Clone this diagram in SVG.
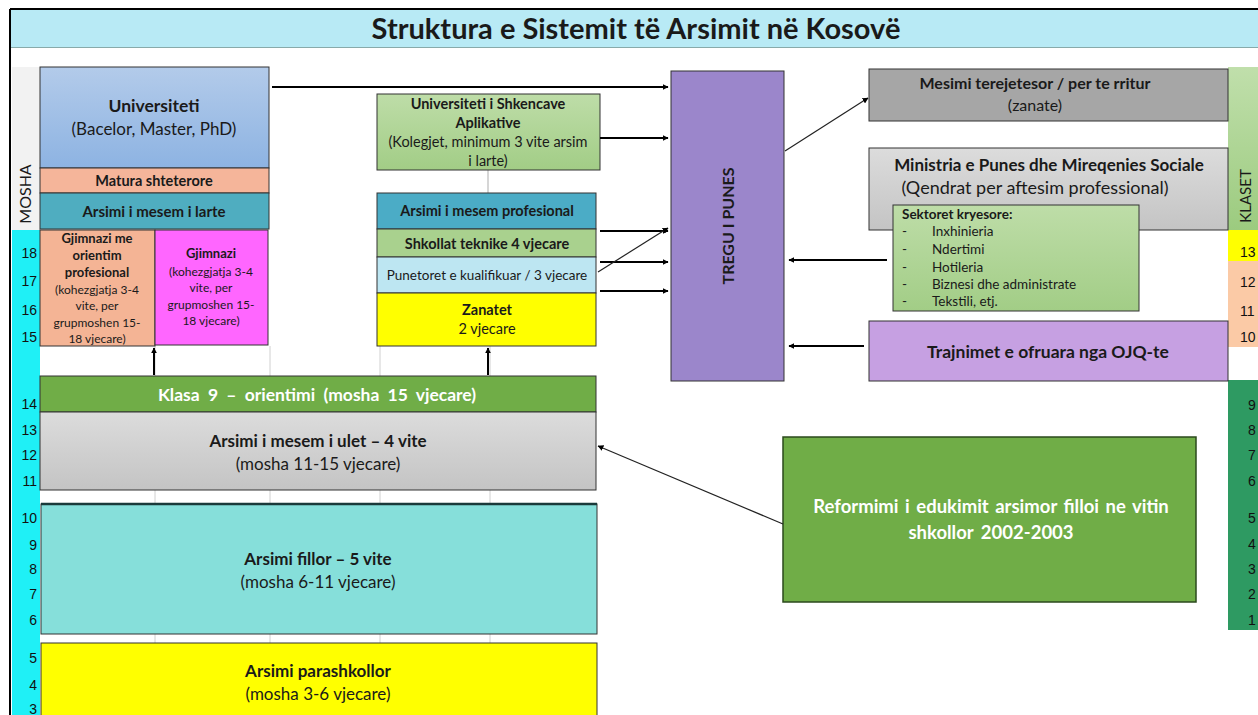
<svg xmlns="http://www.w3.org/2000/svg" width="1258" height="715" viewBox="0 0 1258 715">
<defs>
<style>
.t{font-family:Lato,"Liberation Sans",sans-serif;fill:#1a1a1a;text-anchor:middle}
.b{font-weight:bold}
.n{font-family:"Liberation Sans",Arial,sans-serif;font-size:14px;fill:#111}
.box{stroke:#333;stroke-width:1}
.grid{stroke:#d0d0d0;stroke-width:1}
.ar{stroke:#000;stroke-width:2;fill:none;marker-end:url(#ah)}
.ar1{stroke:#222;stroke-width:1.2;fill:none;marker-end:url(#ah)}
.w{fill:#fff}
</style>
<marker id="ah" viewBox="0 0 10 10" refX="9" refY="5" markerWidth="6" markerHeight="6" markerUnits="userSpaceOnUse" orient="auto"><path d="M0,0 L10,5 L0,10 z" fill="#000"/></marker>
<linearGradient id="gUni" x1="0" y1="0" x2="0" y2="1"><stop offset="0" stop-color="#B3CBEA"/><stop offset="1" stop-color="#8DB3E2"/></linearGradient>
<linearGradient id="gGrey" x1="0" y1="0" x2="0" y2="1"><stop offset="0" stop-color="#DCDCDC"/><stop offset="1" stop-color="#C4C4C4"/></linearGradient>
<linearGradient id="gGreen" x1="0" y1="0" x2="0" y2="1"><stop offset="0" stop-color="#BEDDA8"/><stop offset="1" stop-color="#A2CD86"/></linearGradient>
<linearGradient id="gKl" x1="0" y1="0" x2="0" y2="1"><stop offset="0" stop-color="#C0DFAB"/><stop offset="1" stop-color="#9CCB7F"/></linearGradient>
</defs>
<rect x="0" y="0" width="1258" height="715" fill="#fff"/>
<g id="frame">
<rect x="10" y="10" width="1250" height="38" fill="#B8EAF5"/>
<line x1="10" y1="47.5" x2="1258" y2="47.5" stroke="#8aa" stroke-width="1"/>
<line x1="10" y1="9" x2="1258" y2="9" stroke="#000" stroke-width="2"/>
<line x1="10" y1="9" x2="10" y2="715" stroke="#000" stroke-width="2"/>
<text class="t b" x="636" y="39" font-size="29">Struktura e Sistemit të Arsimit në Kosovë</text>
</g>
<g id="mosha-axis">
<rect x="12" y="67" width="28" height="163" fill="#F2F2F2"/>
<rect x="12" y="230" width="28" height="485" fill="#1FF0F6"/>
<text class="t" font-size="16" transform="translate(31,194) rotate(-90)">MOSHA</text>
<g class="n" text-anchor="end">
<text x="37" y="258">18</text><text x="37" y="286">17</text><text x="37" y="315">16</text><text x="37" y="342">15</text>
<text x="37" y="409">14</text><text x="37" y="435">13</text><text x="37" y="460">12</text><text x="37" y="486">11</text>
<text x="37" y="523">10</text><text x="37" y="550">9</text><text x="37" y="574">8</text><text x="37" y="599">7</text><text x="37" y="625">6</text>
<text x="37" y="663">5</text><text x="37" y="690">4</text><text x="37" y="714">3</text>
</g>
</g>
<g id="klaset-axis">
<rect x="1228" y="67" width="30" height="163" fill="url(#gKl)"/>
<text class="t" font-size="15" transform="translate(1251,196) rotate(-90)">KLASET</text>
<rect x="1228" y="230" width="30" height="31" fill="#FFFF00"/>
<rect x="1228" y="261" width="30" height="86" fill="#FBCAA6"/>
<rect x="1228" y="380" width="30" height="250" fill="#2E9A62"/>
<g class="n">
<text x="1240" y="257">13</text><text x="1240" y="287">12</text><text x="1240" y="316">11</text><text x="1240" y="342">10</text>
<text x="1248" y="410">9</text><text x="1248" y="435">8</text><text x="1248" y="460">7</text><text x="1248" y="486">6</text>
<text x="1248" y="523">5</text><text x="1248" y="549">4</text><text x="1248" y="574">3</text><text x="1248" y="599">2</text><text x="1248" y="625">1</text>
</g>
</g>
<g id="grid">
<line class="grid" x1="155" y1="346" x2="155" y2="643"/>
<line class="grid" x1="270" y1="346" x2="270" y2="643"/>
<line class="grid" x1="380" y1="346" x2="380" y2="643"/>
<line class="grid" x1="490" y1="346" x2="490" y2="643"/>
<line x1="488" y1="170" x2="488" y2="193" stroke="#c8c8c8" stroke-width="1.5"/>
</g>
<g id="universiteti">
<rect class="box" x="40" y="67" width="229" height="101" fill="url(#gUni)"/>
<text class="t b" x="154" y="112" font-size="17.5">Universiteti</text>
<text class="t" x="154" y="135" font-size="17">(Bacelor, Master, PhD)</text>
</g>
<g id="matura">
<rect class="box" x="40" y="168" width="229" height="25" fill="#F5B59A"/>
<text class="t b" x="154" y="186" font-size="14.5">Matura shteterore</text>
</g>
<g id="mesem-larte">
<rect class="box" x="40" y="193" width="229" height="36" fill="#4FADC0"/>
<text class="t b" x="154" y="217" font-size="15">Arsimi i mesem i larte</text>
</g>
<g id="gjimnazi-prof">
<rect class="box" x="40" y="230" width="115" height="116" fill="#F4B495"/>
<g class="t" font-size="12">
<text class="b" x="97" y="243" font-size="13">Gjimnazi me</text>
<text class="b" x="97" y="260" font-size="13">orientim</text>
<text class="b" x="97" y="277" font-size="13">profesional</text>
<text x="97" y="294">(kohezgjatja 3-4</text>
<text x="97" y="310">vite, per</text>
<text x="97" y="327">grupmoshen 15-</text>
<text x="97" y="343">18 vjecare)</text>
</g>
</g>
<g id="gjimnazi">
<rect class="box" x="155" y="230" width="113" height="115" fill="#FF66FF"/>
<g class="t" font-size="12">
<text class="b" x="211" y="258" font-size="13">Gjimnazi</text>
<text x="211" y="276">(kohezgjatja 3-4</text>
<text x="211" y="292">vite, per</text>
<text x="211" y="309">grupmoshen 15-</text>
<text x="211" y="325">18 vjecare)</text>
</g>
</g>
<g id="klasa9">
<rect class="box" x="40" y="376" width="556" height="36" fill="#70AD47"/>
<text class="t b w" x="317" y="401" font-size="17.5" word-spacing="4">Klasa 9 – orientimi (mosha 15 vjecare)</text>
</g>
<g id="mesem-ulet">
<rect class="box" x="40" y="412" width="556" height="78" fill="url(#gGrey)"/>
<text class="t b" x="318" y="447" font-size="17">Arsimi i mesem i ulet – 4 vite</text>
<text class="t" x="318" y="470" font-size="17">(mosha 11-15 vjecare)</text>
</g>
<g id="fillor">
<rect class="box" x="41" y="504" width="556" height="130" fill="#86DFDA"/>
<line x1="41" y1="504" x2="597" y2="504" stroke="#1a3a3a" stroke-width="2.5"/>
<text class="t b" x="318" y="565" font-size="17">Arsimi fillor – 5 vite</text>
<text class="t" x="318" y="588" font-size="17">(mosha 6-11 vjecare)</text>
</g>
<g id="parashkollor">
<rect class="box" x="41" y="643" width="556" height="80" fill="#FFFF00"/>
<text class="t b" x="318" y="677" font-size="17">Arsimi parashkollor</text>
<text class="t" x="318" y="700" font-size="17">(mosha 3-6 vjecare)</text>
</g>
<g id="shkencave">
<rect class="box" x="377" y="94" width="223" height="76" fill="url(#gGreen)"/>
<g class="t" font-size="14.5">
<text class="b" x="488" y="109">Universiteti i Shkencave</text>
<text class="b" x="488" y="128">Aplikative</text>
<text x="488" y="147">(Kolegjet, minimum  3 vite arsim</text>
<text x="488" y="166">i larte)</text>
</g>
</g>
<g id="mesem-profesional">
<rect class="box" x="377" y="193" width="219" height="36" fill="#4BACC6"/>
<text class="t b" x="487" y="216" font-size="14.5">Arsimi i mesem profesional</text>
</g>
<g id="teknike">
<rect class="box" x="377" y="229" width="219" height="28" fill="#A9D18E"/>
<text class="t b" x="487" y="249" font-size="14.5">Shkollat teknike 4 vjecare</text>
</g>
<g id="punetoret">
<rect class="box" x="377" y="257" width="219" height="36" fill="#BDE6F2"/>
<text class="t" x="487" y="280" font-size="13.5">Punetoret e kualifikuar / 3 vjecare</text>
</g>
<g id="zanatet">
<rect class="box" x="377" y="293" width="219" height="53" fill="#FFFF00"/>
<text class="t b" x="487" y="315" font-size="14.5">Zanatet</text>
<text class="t" x="487" y="334" font-size="14.5">2 vjecare</text>
</g>
<g id="tregu">
<rect class="box" x="671" y="71" width="113" height="310" fill="#9B86CB"/>
<text class="t b" font-size="16" transform="translate(734,226) rotate(-90)">TREGU I PUNES</text>
</g>
<g id="mesimi">
<rect class="box" x="869" y="69" width="359" height="52" fill="#A6A6A6"/>
<text class="t b" x="1035" y="89" font-size="16">Mesimi terejetesor / per te rritur</text>
<text class="t" x="1035" y="111" font-size="16">(zanate)</text>
</g>
<g id="ministria">
<rect class="box" x="869" y="148" width="359" height="82" fill="url(#gGrey)"/>
<text class="t b" x="1049" y="171" font-size="17">Ministria e Punes dhe Mireqenies Sociale</text>
<text class="t" x="1035" y="194" font-size="18">(Qendrat per aftesim professional)</text>
</g>
<g id="sektoret">
<rect class="box" x="893" y="205" width="246" height="106" fill="url(#gGreen)"/>
<g font-family="Lato,'Liberation Sans',sans-serif" font-size="13.5" fill="#1a1a1a">
<text x="902" y="219" font-weight="bold">Sektoret kryesore:</text>
<text x="902" y="236">-</text><text x="932" y="236">Inxhinieria</text>
<text x="902" y="254">-</text><text x="932" y="254">Ndertimi</text>
<text x="902" y="272">-</text><text x="932" y="272">Hotileria</text>
<text x="902" y="289">-</text><text x="932" y="289">Biznesi dhe administrate</text>
<text x="902" y="306">-</text><text x="932" y="306">Tekstili, etj.</text>
</g>
</g>
<g id="trajnimet">
<rect class="box" x="869" y="321" width="359" height="60" fill="#C6A0E2"/>
<text class="t b" x="1048" y="358" font-size="17.5">Trajnimet e ofruara nga OJQ-te</text>
</g>
<g id="reformimi">
<rect x="783" y="437" width="413" height="165" fill="#70AD47" stroke="#2b4a1c" stroke-width="1.5"/>
<text class="t b w" x="991" y="513" font-size="18.5" word-spacing="2">Reformimi i edukimit arsimor filloi ne vitin</text>
<text class="t b w" x="991" y="539" font-size="18.5" word-spacing="3">shkollor 2002-2003</text>
</g>
<g id="connectors">
<line class="ar" x1="272" y1="87" x2="668" y2="87"/>
<line class="ar" x1="600" y1="138" x2="668" y2="138"/>
<line class="ar" x1="600" y1="231" x2="668" y2="231"/>
<line class="ar" x1="600" y1="262" x2="668" y2="262"/>
<line class="ar" x1="600" y1="291" x2="668" y2="291"/>
<line class="ar1" x1="598" y1="272" x2="668" y2="228"/>
<line class="ar1" x1="785" y1="151" x2="868" y2="98"/>
<line class="ar" x1="887" y1="260" x2="789" y2="260"/>
<line class="ar" x1="864" y1="346" x2="789" y2="346"/>
<line class="ar" x1="154" y1="375" x2="154" y2="348"/>
<line class="ar" x1="488" y1="375" x2="488" y2="348"/>
<line class="ar1" x1="783" y1="524" x2="598" y2="446"/>
</g>
</svg>
